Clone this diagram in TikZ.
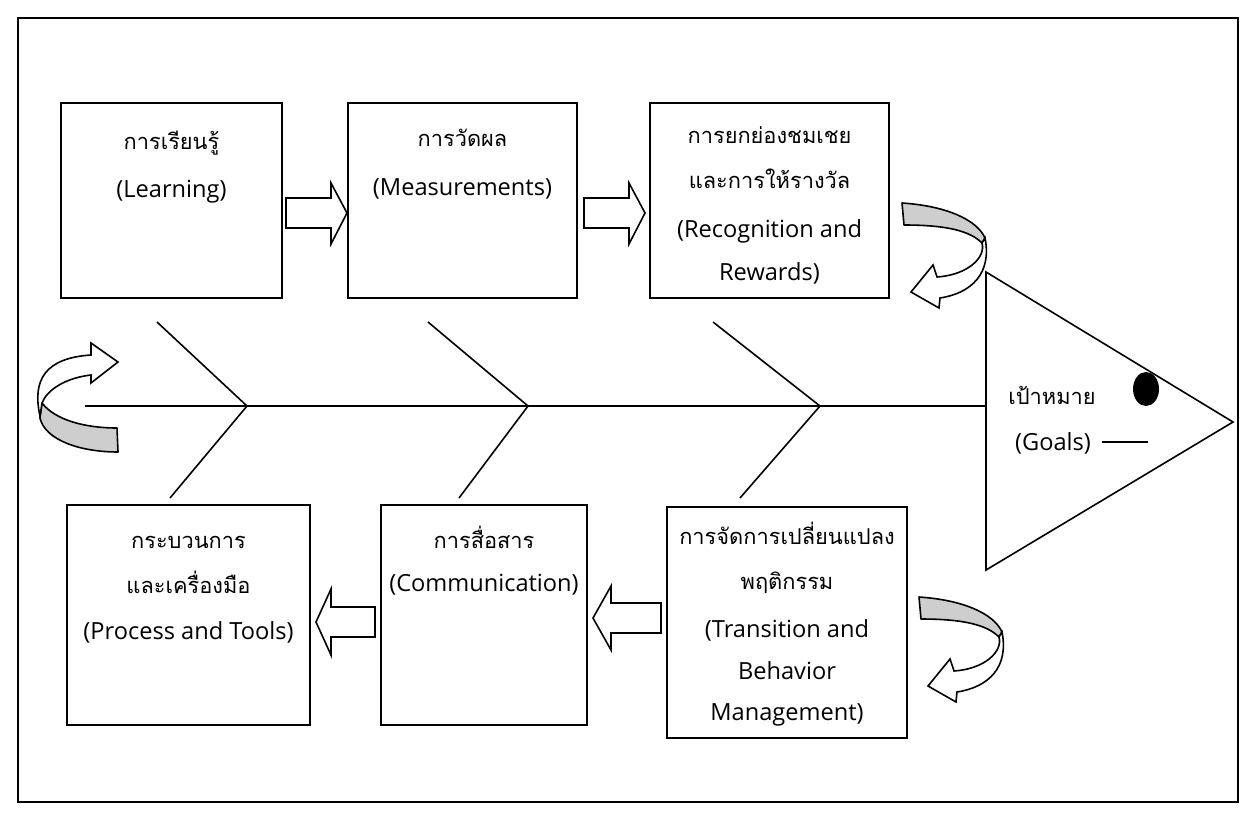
\documentclass[tikz,border=0pt]{standalone}
\usepackage{fontspec}
\setmainfont{Open Sans}
\newfontfamily\thaifont[Script=Thai]{Loma}
\usetikzlibrary{fit}
\definecolor{ribgray}{RGB}{206,206,206}
\tikzset{
  box/.style={draw, line width=0.9pt, inner sep=0pt},
  lat/.style={font=\fontsize{11.8}{14}\selectfont, anchor=base, inner sep=0pt},
  th/.style={font=\thaifont\fontsize{10.9}{14}\selectfont, anchor=base, inner sep=0pt},
  blk/.style={draw, line width=0.8pt, fill=white, line join=miter},
  rib/.style={line width=0.8pt},
  ribbon/.style={draw, line width=0.8pt, fill=ribgray, line join=round},
  ribwhite/.style={draw, line width=0.8pt, fill=white, line join=miter},
  curlR/.pic={
    \path[ribbon] (0,0) .. controls (45,3) and (75,17) .. (83,35) -- (80,40)
       .. controls (68,28) and (45,22) .. (2,22) -- cycle;
    \path[ribwhite] (80,40) .. controls (84,55) and (65,72) .. (35,74) -- (31,62) -- (9,89)
       -- (37,105) -- (38,95) .. controls (70,90) and (90,70) .. (83,35) -- cycle;
  }
}
\begin{document}
\begin{tikzpicture}[x=0.5pt, y=-0.5pt]
\useasboundingbox (0,0) rectangle (1256,820);
\draw[line width=0.75pt] (18,18) rectangle (1238,802);

% boxes
\node[box, fit={(61,103) (282,298)}] (b1) {};
\node[box, fit={(348,103) (577,298)}] (b2) {};
\node[box, fit={(650,103) (889,298)}] (b3) {};
\node[box, fit={(67,505) (310,725)}] (b4) {};
\node[box, fit={(381,505) (587,725)}] (b5) {};
\node[box, fit={(667,507) (907,738)}] (b6) {};

% texts
\node[th]  (t1a) at (171.5,149) {การเรียนรู้};
\node[lat] (t1b) at (171.5,197) {(Learning)};
\node[th]  (t2a) at (462.5,146) {การวัดผล};
\node[lat] (t2b) at (462.5,195) {(Measurements)};
\node[th]  (t3a) at (769.5,143) {การยกย่องชมเชย};
\node[th]  (t3b) at (769.5,188) {และการให้รางวัล};
\node[lat] (t3c) at (769.5,237) {(Recognition and};
\node[lat] (t3d) at (769.5,280) {Rewards)};
\node[th]  (t4a) at (188.5,548) {กระบวนการ};
\node[th]  (t4b) at (188.5,593) {และเครื่องมือ};
\node[lat] (t4c) at (188.5,639) {(Process and Tools)};
\node[th]  (t5a) at (484,548) {การสื่อสาร};
\node[lat] (t5b) at (484,591) {(Communication)};
\node[th]  (t6a) at (787,544) {การจัดการเปลี่ยนแปลง};
\node[th]  (t6b) at (787,589) {พฤติกรรม};
\node[lat] (t6c) at (787,637) {(Transition and};
\node[lat] (t6d) at (787,679) {Behavior};
\node[lat] (t6e) at (787,720) {Management)};

% block arrows
\draw[blk] (286,198) -- (331,198) -- (331,183) -- (347,213) -- (331,244) -- (331,228) -- (286,228) -- cycle;
\draw[blk] (584,198) -- (629,198) -- (629,183) -- (645,213) -- (629,244) -- (629,228) -- (584,228) -- cycle;
\draw[blk] (375,607) -- (331,607) -- (331,589) -- (316,622) -- (331,655) -- (331,637) -- (375,637) -- cycle;
\draw[blk] (661,603) -- (611,603) -- (611,586) -- (593,618) -- (611,650) -- (611,633) -- (661,633) -- cycle;

% fishbone
\coordinate (sL) at (85,406);
\coordinate (sR) at (986,406);
\coordinate (j1) at (247,406);
\coordinate (j2) at (528,406);
\coordinate (j3) at (820,406);
\coordinate (u1) at (157,322);
\coordinate (u2) at (428,322);
\coordinate (u3) at (713,322);
\coordinate (d1) at (170,498);
\coordinate (d2) at (459,498);
\coordinate (d3) at (740,498);
\draw[rib] (sL) -- (sR);
\draw[rib] (u1) -- (j1) -- (d1);
\draw[rib] (u2) -- (j2) -- (d2);
\draw[rib] (u3) -- (j3) -- (d3);

% head
\coordinate (h1) at (986,272);
\coordinate (h2) at (1233,422);
\coordinate (h3) at (986,570);
\draw[line width=0.8pt, line join=miter] (h1) -- (h2) -- (h3) -- cycle;
\fill (1146,389) ellipse [x radius=6.5pt, y radius=8.5pt];
\node[th]  (g1) at (1052,404) {เป้าหมาย};
\node[lat] (g2) at (1053,450) {(Goals)};
\coordinate (gl1) at (1102,442);
\coordinate (gl2) at (1148,442);
\draw[line width=0.8pt] (gl1) -- (gl2);

% curved arrows
\pic at (902,203) {curlR};
\pic at (919,597) {curlR};
\path[ribbon] (42,403) .. controls (55,420) and (85,428) .. (117,428) -- (118,452)
   .. controls (80,452) and (45,440) .. (40,418) -- cycle;
\path[ribwhite] (40,416) .. controls (32,380) and (45,358) .. (91,355) -- (91,343) -- (118,362)
   -- (91,383) -- (91,375) .. controls (65,378) and (47,390) .. (42,403) -- cycle;
\end{tikzpicture}
\end{document}
